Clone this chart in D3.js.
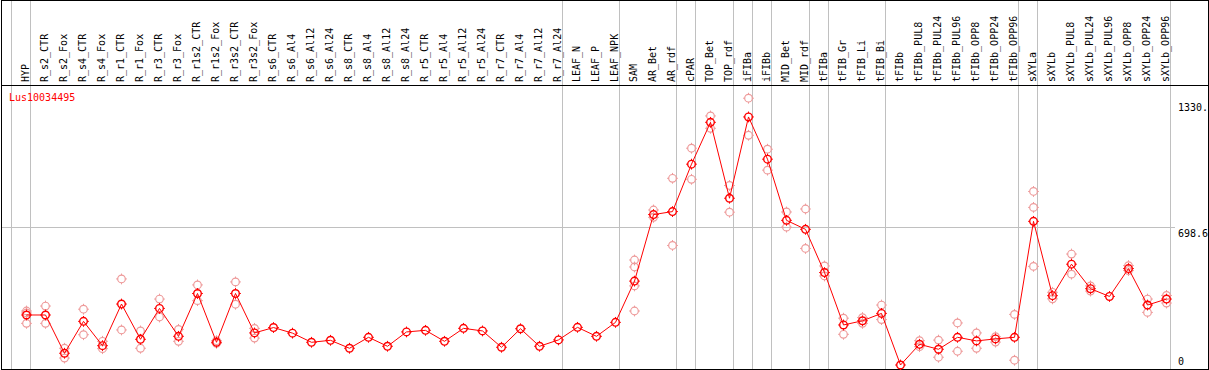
<!DOCTYPE html>
<html>
<head>
<meta charset="utf-8">
<script src="https://cdn.jsdelivr.net/npm/d3@7/dist/d3.min.js"></script>
<style>
  body { margin: 0; background: #fff; }
  svg { display: block; }
  text { font-family: "DejaVu Sans Mono", monospace; font-size: 10px; }
</style>
</head>
<body>
<svg id="chart" width="1209" height="370"></svg>
<script>
// sample names, one column each
const samples = [
    'HYP', 'R_s2_CTR', 'R_s2_Fox', 'R_s4_CTR', 'R_s4_Fox', 'R_r1_CTR', 'R_r1_Fox',
    'R_r3_CTR', 'R_r3_Fox', 'R_r1s2_CTR', 'R_r1s2_Fox', 'R_r3s2_CTR', 'R_r3s2_Fox',
    'R_s6_CTR', 'R_s6_Al4', 'R_s6_Al12', 'R_s6_Al24', 'R_s8_CTR', 'R_s8_Al4', 'R_s8_Al12',
    'R_s8_Al24', 'R_r5_CTR', 'R_r5_Al4', 'R_r5_Al12', 'R_r5_Al24', 'R_r7_CTR', 'R_r7_Al4',
    'R_r7_Al12', 'R_r7_Al24', 'LEAF_N', 'LEAF_P', 'LEAF_NPK', 'SAM', 'AR_Bet', 'AR_rdf',
    'cPAR', 'TOP_Bet', 'TOP_rdf', 'iFIBa', 'iFIBb', 'MID_Bet', 'MID_rdf', 'tFIBa',
    'tFIB_Gr', 'tFIB_Li', 'tFIB_Bi', 'tFIBb', 'tFIBb_PUL8', 'tFIBb_PUL24', 'tFIBb_PUL96',
    'tFIBb_OPP8', 'tFIBb_OPP24', 'tFIBb_OPP96', 'sXYLa', 'sXYLb', 'sXYLb_PUL8',
    'sXYLb_PUL24', 'sXYLb_PUL96', 'sXYLb_OPP8', 'sXYLb_OPP24', 'sXYLb_OPP96'
];

// mean expression per sample
const meanValues = [
    261, 261, 69, 229, 107, 316, 139, 294, 154, 369, 124, 369, 171,
    198, 170, 124, 134, 94, 149, 104, 176, 184, 129, 194, 181, 99, 192, 104, 136,
    199, 154, 224, 431, 765, 780, 1018, 1228, 847, 1255, 1043, 736, 691, 474,
    211, 232, 269, 10, 114, 89, 149, 131, 141, 149, 731, 358, 516, 393, 354, 494, 311, 341
];

// individual replicates per sample (empty where none are visible)
const replicates = [
    [281, 271, 219], [306, 219], [94, 45], [290, 162], [129, 92], [442, 186], [181, 94],
    [341, 251], [189, 129], [412, 333], [132, 119], [427, 315], [194, 145],
    [], [], [], [], [], [], [], [], [], [], [], [], [], [], [], [],
    [], [], [], [537, 502, 407, 281], [788, 751], [947, 610], [1098, 942], [1260, 1198],
    [911, 777], [1349, 1163], [1093, 988], [778, 702], [793, 595], [507, 457],
    [245, 164], [248, 219], [311, 238], [], [132, 102], [135, 49], [221, 79],
    [171, 94], [152, 125], [264, 34], [881, 801, 505], [375, 342], [567, 466],
    [407, 381], [], [509, 484], [341, 274], [359, 321]
];

// column boundaries that get a grey separator (index of first column after the line)
const groupBreaks = [0, 1, 29, 32, 35, 36, 38, 39, 40, 42, 43, 46, 53, 54, 61];

const tickValues = [0, 698.6, 1330];
const tickLabels = ['0', '698.6', '1330.'];
const geneName = 'Lus10034495';

const svg = d3.select('#chart');
const W = 1209, H = 370;
const headerBottom = 85;

const x = d3.scaleBand()
    .domain(samples)
    .range([11.5, 1170.5]);
const step = x.step();
const px = d => x(d) + 15;

const y = d3.scaleLinear()
    .domain([0, 1330])
    .range([367, 102]);

// grey vertical separators
svg.append('g')
    .selectAll('line')
    .data(groupBreaks)
    .enter().append('line')
    .attr('x1', k => Math.floor(11.5 + k * step) + 0.5)
    .attr('x2', k => Math.floor(11.5 + k * step) + 0.5)
    .attr('y1', 0)
    .attr('y2', H - 1)
    .attr('stroke', '#c0c0c0')
    .attr('stroke-width', 1);

// horizontal grid line at the middle tick
svg.append('line')
    .attr('x1', 1)
    .attr('x2', 1175)
    .attr('y1', Math.floor(y(tickValues[1])) + 0.5)
    .attr('y2', Math.floor(y(tickValues[1])) + 0.5)
    .attr('stroke', '#c0c0c0');

// frame and header separator
svg.append('rect')
    .attr('x', 1.5)
    .attr('y', 0.5)
    .attr('width', 1207)
    .attr('height', 369)
    .attr('fill', 'none')
    .attr('stroke', '#000');

svg.append('line')
    .attr('x1', 1)
    .attr('x2', 1208)
    .attr('y1', headerBottom + 0.5)
    .attr('y2', headerBottom + 0.5)
    .attr('stroke', '#000');

// column labels
svg.append('g')
    .selectAll('text')
    .data(samples)
    .enter().append('text')
    .attr('transform', d => `translate(${px(d) + 2},82) rotate(-90)`)
    .attr('fill', '#000')
    .text(d => d);

// y tick labels
svg.append('g')
    .selectAll('text')
    .data(tickValues)
    .enter().append('text')
    .attr('x', 1178)
    .attr('y', v => Math.min(y(v) + 9, 365))
    .attr('fill', '#000')
    .text((v, i) => tickLabels[i]);

// gene name
svg.append('text')
    .attr('x', 9)
    .attr('y', 100.5)
    .attr('fill', '#ff0000')
    .text(geneName);

// marker: ring with small ticks on four sides
function marker(g, cx, cy, color, sw) {
    const r = 3.8;
    g.append('circle')
        .attr('cx', cx).attr('cy', cy).attr('r', r)
        .attr('fill', 'none')
        .attr('stroke', color)
        .attr('stroke-width', sw);
    const t = r + 1.6;
    g.append('path')
        .attr('d', `M${cx},${cy - t}V${cy - r}M${cx},${cy + r}V${cy + t}` +
                   `M${cx - t},${cy}H${cx - r}M${cx + r},${cy}H${cx + t}`)
        .attr('stroke', color)
        .attr('stroke-width', 1);
}

// replicate points
const repLayer = svg.append('g');
replicates.forEach((reps, i) => {
    reps.forEach(v => marker(repLayer, px(samples[i]), y(v), '#ee9a9a', 1.2));
});

// mean line
const line = d3.line()
    .x((d, i) => px(samples[i]))
    .y(d => y(d));

svg.append('path')
    .datum(meanValues)
    .attr('d', line)
    .attr('fill', 'none')
    .attr('stroke', '#ff0000')
    .attr('stroke-width', 1);

const meanLayer = svg.append('g');
meanValues.forEach((v, i) => marker(meanLayer, px(samples[i]), y(v), '#ff0000', 1.4));
</script>
</body>
</html>
